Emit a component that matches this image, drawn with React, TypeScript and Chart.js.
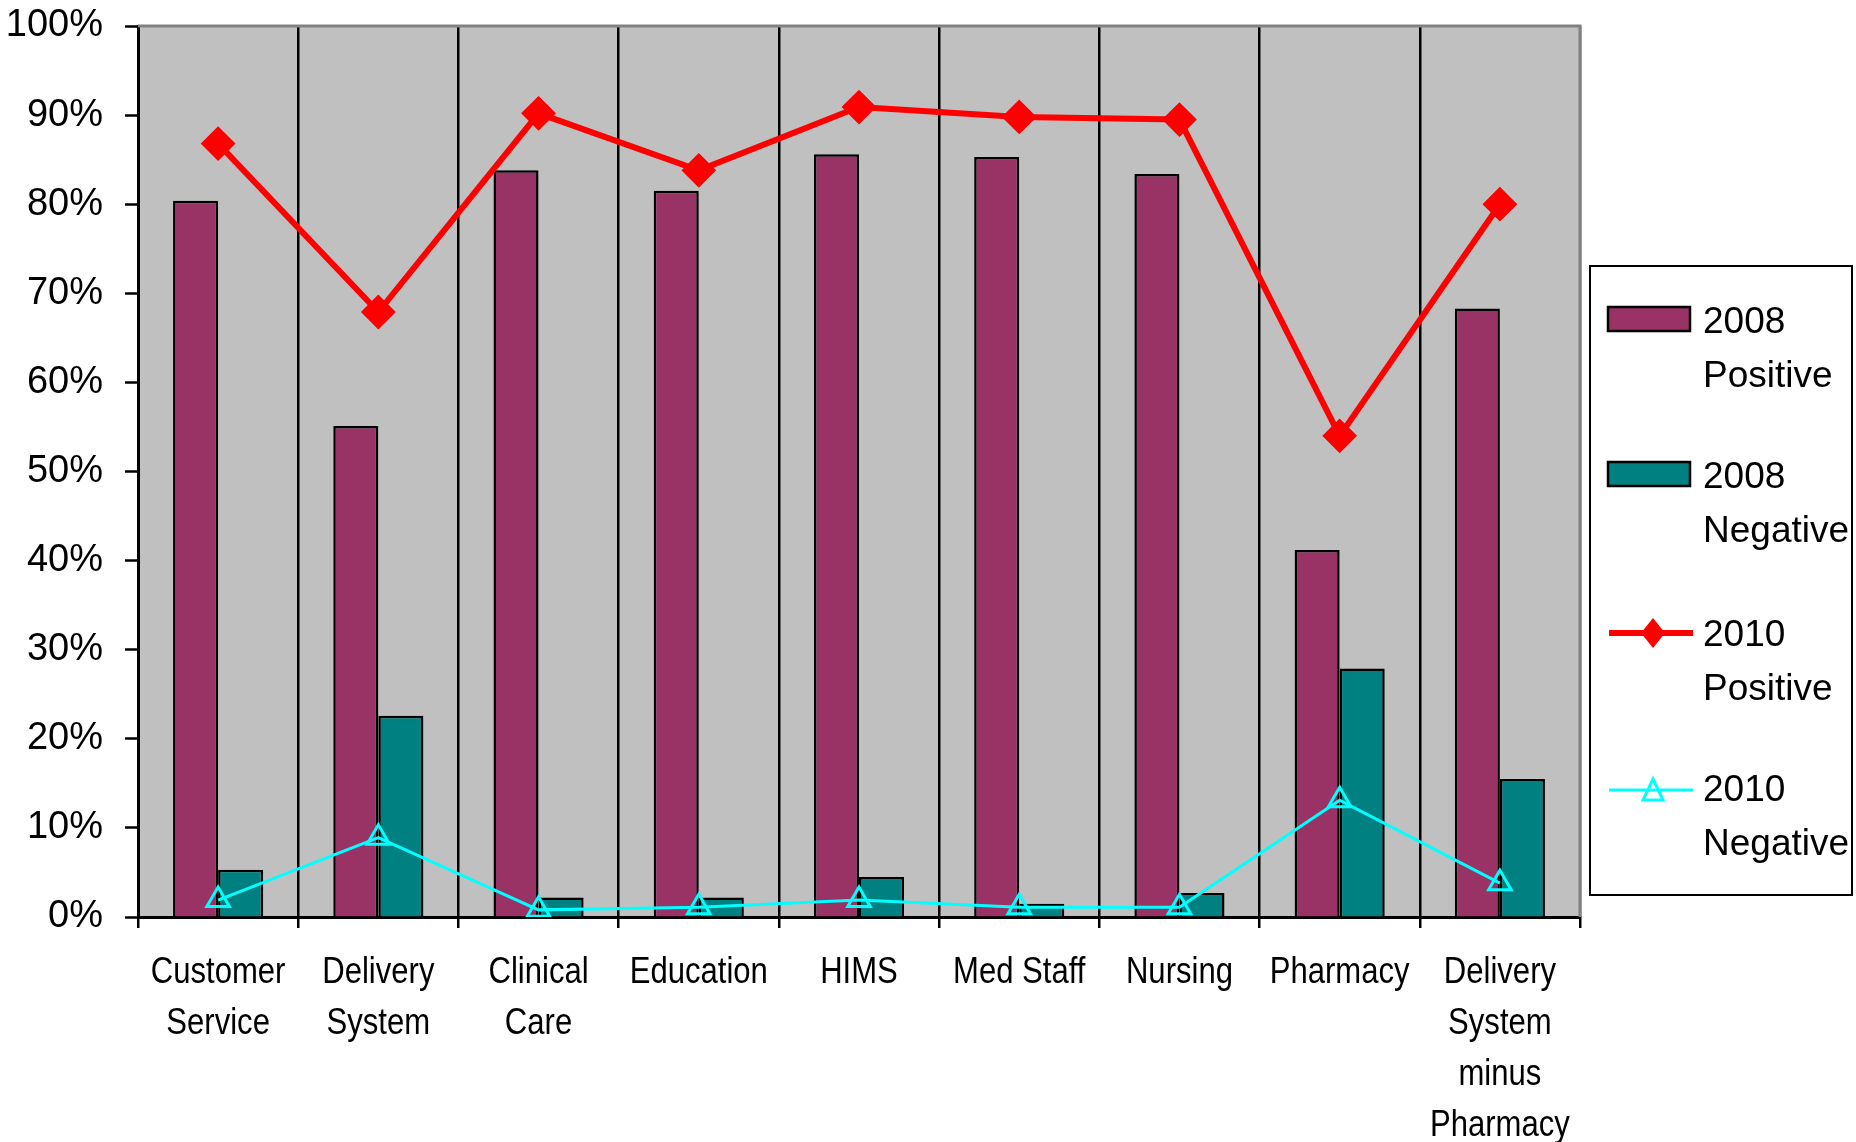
import React, { useEffect, useRef } from "react";
import { Chart, registerables } from "chart.js";

Chart.register(...registerables);

const categories: (string | string[])[] = [
  ["Customer", "Service"],
  ["Delivery", "System"],
  ["Clinical", "Care"],
  "Education",
  "HIMS",
  "Med Staff",
  "Nursing",
  "Pharmacy",
  ["Delivery", "System", "minus", "Pharmacy"],
];

const positive2008 = [80.4, 55.1, 83.8, 81.5, 85.6, 85.3, 83.4, 41.2, 68.3];
const negative2008 = [5.3, 22.6, 2.2, 2.2, 4.5, 1.5, 2.7, 27.9, 15.5];
const positive2010 = [86.8, 67.9, 90.2, 83.8, 90.9, 89.8, 89.5, 54.0, 80.0];
const negative2010 = [1.9, 8.9, 0.8, 1.1, 1.9, 1.1, 1.1, 13.1, 3.8];

const seriesNames = [["2008", "Positive"], ["2008", "Negative"], ["2010", "Positive"], ["2010", "Negative"]];

const MAGENTA = "#993366";
const TEAL = "#008080";
const RED = "#FF0000";
const CYAN = "#00FFFF";
const PLOT_BG = "#C0C0C0";
const FRAME_GRAY = "#808080";
const FONT = "'Liberation Sans', Arial, sans-serif";

const plotBgPlugin = {
  id: "plotBg",
  beforeDraw(chart: any) {
    const { ctx, chartArea: a } = chart;
    ctx.save();
    ctx.fillStyle = PLOT_BG;
    ctx.fillRect(a.left, a.top, a.right - a.left, a.bottom - a.top);
    ctx.restore();
  },
  beforeDatasetsDraw(chart: any) {
    const { ctx, chartArea: a } = chart;
    ctx.save();
    ctx.strokeStyle = FRAME_GRAY;
    ctx.lineWidth = 3;
    ctx.beginPath();
    ctx.moveTo(a.left, a.top);
    ctx.lineTo(a.right, a.top);
    ctx.lineTo(a.right, a.bottom);
    ctx.stroke();
    ctx.restore();
  },
};

// Category labels of the x axis, drawn in a horizontally condensed face
const xLabelPlugin = {
  id: "xLabels",
  afterDraw(chart: any) {
    const { ctx } = chart;
    const xs = chart.scales.x;
    const labels = chart.data.labels as (string | string[])[];
    ctx.save();
    ctx.fillStyle = "#000";
    ctx.font = `37px ${FONT}`;
    ctx.textAlign = "center";
    ctx.textBaseline = "alphabetic";
    labels.forEach((lab, i) => {
      const lines = Array.isArray(lab) ? lab : [lab];
      const px = xs.getPixelForTick(i);
      lines.forEach((line, j) => {
        ctx.save();
        ctx.translate(px, xs.top + 66 + j * 51);
        ctx.scale(0.84, 1);
        ctx.fillText(line, 0, 0);
        ctx.restore();
      });
    });
    ctx.restore();
  },
};

const legendPlugin = {
  id: "customLegend",
  afterDraw(chart: any) {
    const ctx = chart.ctx;
    const bx = 1590, by = 266, bw = 262, bh = 629;
    ctx.save();
    ctx.fillStyle = "#FFFFFF";
    ctx.fillRect(bx, by, bw, bh);
    ctx.strokeStyle = "#000";
    ctx.lineWidth = 2;
    ctx.strokeRect(bx, by, bw, bh);

    const rows = [319, 474, 632, 787];
    const textX = 1703;
    ctx.font = `37px ${FONT}`;
    ctx.textAlign = "left";
    ctx.textBaseline = "alphabetic";
    rows.forEach((cy, i) => {
      const ds = chart.data.datasets[i];
      if (i < 2) {
        ctx.fillStyle = ds.backgroundColor;
        ctx.fillRect(1608, cy - 12, 82, 24);
        ctx.strokeStyle = "#000";
        ctx.lineWidth = 2.5;
        ctx.strokeRect(1608, cy - 12, 82, 24);
      } else if (i === 2) {
        ctx.strokeStyle = RED;
        ctx.lineWidth = 6;
        ctx.beginPath();
        ctx.moveTo(1609, cy + 1);
        ctx.lineTo(1693, cy + 1);
        ctx.stroke();
        ctx.fillStyle = RED;
        ctx.beginPath();
        ctx.moveTo(1653, cy + 1 - 15);
        ctx.lineTo(1665, cy + 1);
        ctx.lineTo(1653, cy + 1 + 15);
        ctx.lineTo(1641, cy + 1);
        ctx.closePath();
        ctx.fill();
      } else {
        const ly = cy + 3;
        ctx.strokeStyle = CYAN;
        ctx.lineWidth = 3;
        ctx.beginPath();
        ctx.moveTo(1609, ly);
        ctx.lineTo(1693, ly);
        ctx.stroke();
        ctx.beginPath();
        ctx.moveTo(1653, ly - 11);
        ctx.lineTo(1663, ly + 10);
        ctx.lineTo(1643, ly + 10);
        ctx.closePath();
        ctx.stroke();
      }
      ctx.fillStyle = "#000";
      ctx.fillText(seriesNames[i][0], textX, cy + 14);
      ctx.fillText(seriesNames[i][1], textX, cy + 14 + 54);
    });
    ctx.restore();
  },
};

export default function App() {
  const canvasRef = useRef<HTMLCanvasElement | null>(null);

  useEffect(() => {
    if (!canvasRef.current) return;
    const chart = new Chart(canvasRef.current, {
      type: "bar",
      data: {
        labels: categories,
        datasets: [
          {
            type: "bar",
            label: "2008 Positive",
            data: positive2008,
            backgroundColor: MAGENTA,
            borderColor: "#000",
            borderWidth: 2.5,
            order: 2,
          },
          {
            type: "bar",
            label: "2008 Negative",
            data: negative2008,
            backgroundColor: TEAL,
            borderColor: "#000",
            borderWidth: 2.5,
            order: 2,
          },
          {
            type: "line",
            label: "2010 Positive",
            data: positive2010,
            borderColor: RED,
            backgroundColor: RED,
            borderWidth: 6,
            pointStyle: "rectRot",
            pointRadius: 16,
            pointBorderWidth: 2,
            pointBorderColor: RED,
            pointBackgroundColor: RED,
            tension: 0,
            order: 1,
          } as any,
          {
            type: "line",
            label: "2010 Negative",
            data: negative2010,
            borderColor: CYAN,
            backgroundColor: CYAN,
            borderWidth: 3,
            pointStyle: "triangle",
            pointRadius: 13,
            pointBorderWidth: 3,
            pointBorderColor: CYAN,
            pointBackgroundColor: "rgba(0,0,0,0)",
            tension: 0,
            order: 0,
          } as any,
        ],
      },
      options: {
        animation: false,
        responsive: true,
        maintainAspectRatio: false,
        layout: { padding: { left: 0, top: 26, right: 276, bottom: 0 } },
        datasets: {
          bar: { categoryPercentage: 0.5625, barPercentage: 1 },
        } as any,
        plugins: {
          legend: { display: false },
          tooltip: { enabled: false },
          title: { display: false },
        },
        scales: {
          x: {
            offset: true,
            grid: {
              offset: true,
              display: true,
              drawOnChartArea: true,
              drawTicks: true,
              tickLength: 11,
              lineWidth: 2.5,
              tickWidth: 2.5,
              tickColor: "#000",
              color: (c: any) => (c.index === undefined ? FRAME_GRAY : "#000"),
            },
            border: { display: true, color: "#000", width: 3 },
            ticks: {
              display: false,
              autoSkip: false,
              maxRotation: 0,
              minRotation: 0,
            },
            afterFit: (scale: any) => {
              scale.height = 1142 - 917;
              scale.paddingLeft = 0;
              scale.paddingRight = 0;
            },
          },
          y: {
            min: 0,
            max: 100,
            grid: {
              drawOnChartArea: false,
              drawTicks: true,
              tickLength: 13,
              tickWidth: 2.5,
              tickColor: "#000",
            },
            border: { display: true, color: "#000", width: 3 },
            ticks: {
              stepSize: 10,
              color: "#000",
              padding: 22,
              font: { family: FONT, size: 38 },
              callback: (v: any) => `${v}%`,
            },
            afterFit: (scale: any) => {
              scale.width = 138;
              scale.paddingTop = 0;
              scale.paddingBottom = 0;
            },
          },
        },
      },
      plugins: [plotBgPlugin, xLabelPlugin, legendPlugin],
    });
    return () => chart.destroy();
  }, []);

  return (
    <div style={{ position: "absolute", left: 0, top: 0, width: 1856, height: 1142, background: "#fff" }}>
      <canvas ref={canvasRef} />
    </div>
  );
}
